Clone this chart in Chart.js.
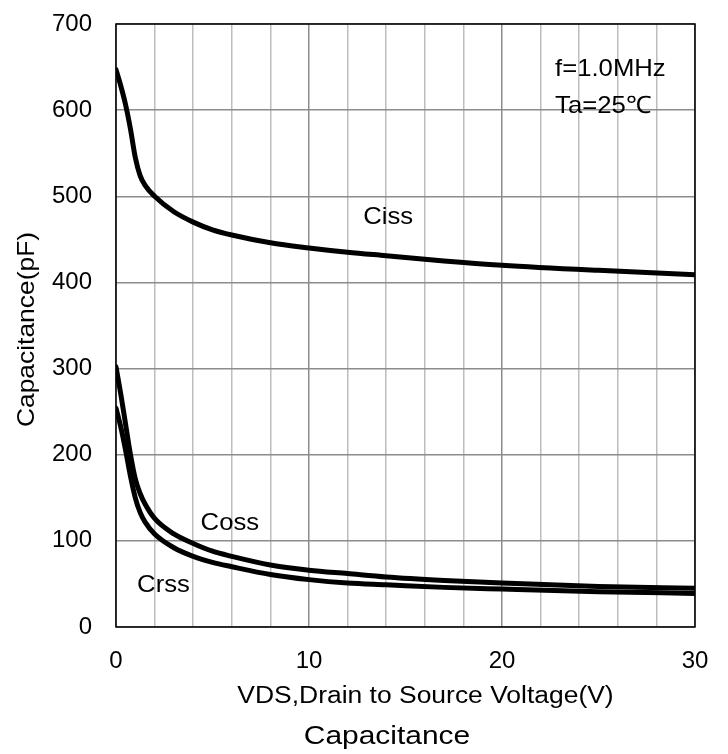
<!DOCTYPE html>
<html>
<head>
<meta charset="utf-8">
<script src="https://cdn.jsdelivr.net/npm/chart.js@4.4.1/dist/chart.umd.min.js"></script>
<style>
html,body{margin:0;padding:0;background:#fff;}
#wrap{width:728px;height:754px;}
</style>
</head>
<body>
<div id="wrap"><canvas id="c" width="728" height="754"></canvas></div>
<script>
// ---- data ----
const vds  = [0, 0.25, 0.5, 0.75, 1.0, 1.25, 1.5, 2, 3, 4, 5, 6, 8, 10, 12, 14, 17, 20, 25, 30];
const ciss = [647, 628, 606, 578, 545, 524, 513, 500, 482, 470, 461, 455, 446, 440, 435, 431, 425, 420, 414, 409];
const coss = [302, 270, 235, 200, 172, 155, 143, 126, 108, 97, 88, 82, 72, 66, 62, 58, 54, 51, 47, 45];
const crss = [254, 232, 205, 175, 150, 133, 122, 108, 92, 82, 75, 70, 61, 55, 51, 49, 46, 44, 41, 39];
const seriesNames = ['Ciss', 'Coss', 'Crss'];
const xTickLabels = ['0', '10', '20', '30'];
const yTickLabels = ['0', '100', '200', '300', '400', '500', '600', '700'];
const xTitle = 'VDS,Drain to Source Voltage(V)';
const yTitle = 'Capacitance(pF)';
const chartTitle = 'Capacitance';
const noteLines = ['f=1.0MHz', 'Ta=25\u2103'];

// ---- label placement (in data units) ----
const seriesLabelPos = [
  {x: 14.1, y: 476},
  {x: 5.9, y: 120},
  {x: 2.46, y: 48}
];
const notePos = [{x: 22.75, y: 647}, {x: 22.75, y: 604}];

const FONT = "'Liberation Sans', Arial, sans-serif";
Chart.defaults.font.family = FONT;
Chart.defaults.color = '#000';

function pts(arr) { return vds.map((v, i) => ({x: v, y: arr[i]})); }

const lineStyle = {
  borderColor: '#000',
  backgroundColor: '#000',
  borderWidth: 5,
  pointRadius: 0,
  fill: false,
  cubicInterpolationMode: 'monotone',
  borderCapStyle: 'round',
  borderJoinStyle: 'round'
};

function stretchedText(ctx, text, x, y, size, sx, align, baseline, rot) {
  ctx.save();
  ctx.translate(x, y);
  if (rot) ctx.rotate(rot);
  ctx.scale(sx, 1);
  ctx.font = size + 'px ' + FONT;
  ctx.textAlign = align;
  ctx.textBaseline = baseline;
  ctx.fillText(text, 0, 0);
  ctx.restore();
}

const textPlugin = {
  id: 'texts',
  afterDatasetsDraw(chart) {
    const {ctx, scales: {x, y}, chartArea: a} = chart;
    ctx.save();
    // frame
    ctx.strokeStyle = '#000';
    ctx.lineWidth = 1.5;
    ctx.strokeRect(a.left, a.top, a.right - a.left, a.bottom - a.top);
    ctx.fillStyle = '#000';
    seriesNames.forEach((n, i) => {
      stretchedText(ctx, n, x.getPixelForValue(seriesLabelPos[i].x), y.getPixelForValue(seriesLabelPos[i].y), 24, 1.07, 'center', 'middle');
    });
    noteLines.forEach((t, i) => {
      stretchedText(ctx, t, x.getPixelForValue(notePos[i].x), y.getPixelForValue(notePos[i].y), 24, 1.07, 'left', 'middle');
    });
    // axis titles and chart title
    stretchedText(ctx, xTitle, 425.5, 703, 23, 1.15, 'center', 'alphabetic');
    stretchedText(ctx, chartTitle, 387, 744, 26.5, 1.13, 'center', 'alphabetic');
    stretchedText(ctx, yTitle, 27, 329.5, 24, 1.1, 'center', 'middle', -Math.PI / 2);
    ctx.restore();
  }
};

new Chart(document.getElementById('c'), {
  type: 'line',
  data: {
    datasets: [
      Object.assign({label: seriesNames[0], data: pts(ciss)}, lineStyle),
      Object.assign({label: seriesNames[1], data: pts(coss)}, lineStyle),
      Object.assign({label: seriesNames[2], data: pts(crss)}, lineStyle)
    ]
  },
  options: {
    responsive: false,
    animation: false,
    layout: {padding: {left: 0, right: 33, top: 24, bottom: 0}},
    plugins: {
      legend: {display: false},
      tooltip: {enabled: false},
      title: {display: false}
    },
    scales: {
      x: {
        type: 'linear',
        min: 0, max: 30,
        afterFit(s) { s.height = 127; s.paddingLeft = 0; s.paddingRight = 0; },
        border: {display: false},
        grid: {
          drawTicks: false,
          lineWidth: 1.5,
          color: ctx => (ctx.tick && ctx.tick.value % 10 === 0) ? '#8c8c8c' : '#bdbdbd'
        },
        ticks: {
          stepSize: 2,
          autoSkip: false,
          maxRotation: 0,
          padding: 20,
          font: {size: 24},
          color: '#000',
          callback: v => (v % 10 === 0) ? xTickLabels[v / 10] : ''
        }
      },
      y: {
        type: 'linear',
        min: 0, max: 700,
        afterFit(s) { s.width = 116; s.paddingTop = 0; s.paddingBottom = 0; },
        border: {display: false},
        grid: {
          drawTicks: false,
          lineWidth: 1.5,
          color: '#8c8c8c'
        },
        ticks: {
          stepSize: 100,
          padding: 24,
          font: {size: 24},
          color: '#000',
          callback: v => yTickLabels[v / 100]
        }
      }
    }
  },
  plugins: [textPlugin]
});
</script>
</body>
</html>
